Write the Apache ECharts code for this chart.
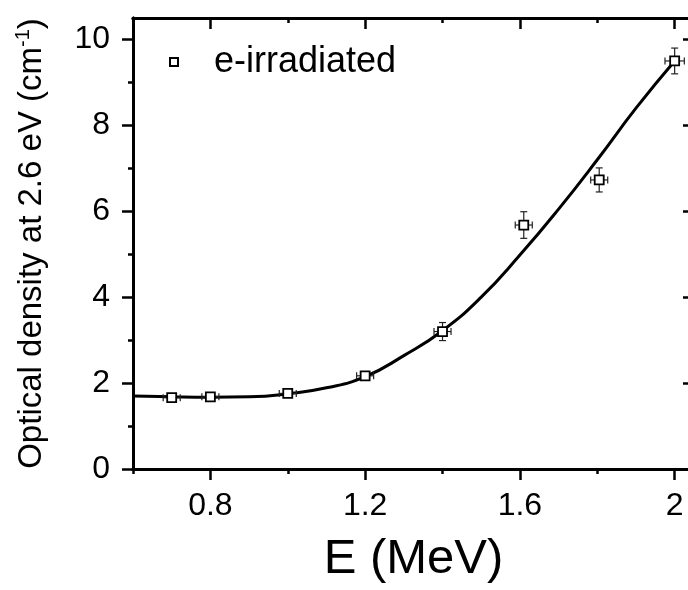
<!DOCTYPE html>
<html>
	<head>
		<meta charset="utf-8">
		<title></title>
		<script src="https://cdn.jsdelivr.net/npm/echarts@6/dist/echarts.min.js"></script>
	</head>
	<body style="margin:0;">
		<div id="my" style="width:688px;height:590px;"></div>

		<script>
			// measured points
			var energy = [0.7, 0.8, 1.0, 1.2, 1.4, 1.61, 1.805, 2.0];
			var density = [1.66, 1.68, 1.76, 2.17, 3.2, 5.68, 6.73, 9.5];
			var energyErr = [0.022, 0.022, 0.022, 0.022, 0.022, 0.022, 0.022, 0.025];
			var densityErr = [0.05, 0.05, 0.05, 0.06, 0.21, 0.31, 0.28, 0.3];

			// fitted curve
			var fitE = [0.6, 0.7, 0.8, 0.9, 1.0, 1.1, 1.2, 1.3, 1.4, 1.5, 1.6, 1.7, 1.8, 1.9, 2.0];
			var fitD = [1.70, 1.68, 1.67, 1.68, 1.75, 1.89, 2.15, 2.64, 3.22, 4.0, 4.98, 6.05, 7.2, 8.4, 9.5];

			// ticks
			var xMajor = [0.8, 1.2, 1.6, 2.0];
			var xMinor = [0.6, 1.0, 1.4, 1.8];
			var yMajor = [0, 2, 4, 6, 8, 10];
			var yMinor = [1, 3, 5, 7, 9];

			var myChart = echarts.init(document.getElementById('my'));
			var font = 'Liberation Sans';

			var pts = energy.map(function (e, i) { return [e, density[i]]; });
			var errData = energy.map(function (e, i) {
				return [e, density[i], energyErr[i], densityErr[i]];
			});
			var fitData = fitE.map(function (e, i) { return [e, fitD[i]]; });

			function xAx(pos, ticks, len, inside, labels) {
				return {
					type: 'value', min: 0.6, max: 2.05, position: pos, gridIndex: 0,
					axisLine: { show: true, onZero: false, lineStyle: { color: '#000', width: 3 } },
					axisTick: { show: true, customValues: ticks, length: len, inside: inside, lineStyle: { color: '#000', width: 2.5 } },
					axisLabel: labels ? {
						show: true, customValues: ticks, margin: 21, color: '#000', fontSize: 32, fontFamily: font,
						formatter: function (v) { return String(+v.toFixed(1)); }
					} : { show: false },
					splitLine: { show: false }
				};
			}
			function yAx(pos, ticks, len, inside, labels) {
				return {
					type: 'value', min: 0, max: 10.5, position: pos, gridIndex: 0,
					axisLine: { show: true, onZero: false, lineStyle: { color: '#000', width: 3 } },
					axisTick: { show: true, customValues: ticks, length: len, inside: inside, lineStyle: { color: '#000', width: 2.5 } },
					axisLabel: labels ? {
						show: true, customValues: ticks, margin: 23, color: '#000', fontSize: 32, fontFamily: font
					} : { show: false },
					splitLine: { show: false }
				};
			}

			var xMain = xAx('bottom', xMajor, 11, false, true);
			xMain.name = 'E (MeV)';
			xMain.nameLocation = 'middle';
			xMain.nameGap = 66;
			xMain.nameTextStyle = { color: '#000', fontSize: 49, fontFamily: font };

			var yMain = yAx('left', yMajor, 11, false, true);
			yMain.name = 'Optical density at 2.6 eV (cm{sup|-1})';
			yMain.nameLocation = 'middle';
			yMain.nameGap = 82;
			yMain.nameTextStyle = {
				color: '#000', fontSize: 33, fontFamily: font,
				rich: { sup: { fontSize: 20, fontFamily: font, color: '#000', verticalAlign: 'top', lineHeight: 38 } }
			};

			var option = {
				animation: false,
				grid: { left: 133, width: 561, top: 18, bottom: 121, outerBoundsMode: 'none', containLabel: false },
				legend: {
					left: 164, top: 39,
					itemWidth: 8, itemHeight: 8,
					data: ['e-irradiated'],
					textStyle: { color: '#000', fontSize: 36, fontFamily: font, padding: [0, 0, 0, 31] }
				},
				xAxis: [
					xMain,
					xAx('bottom', xMinor, 5, false, false),
					xAx('top', xMajor, 11, true, false),
					xAx('top', xMinor, 5, true, false)
				],
				yAxis: [
					yMain,
					yAx('left', yMinor, 5, false, false),
					yAx('right', yMajor, 11, true, false),
					yAx('right', yMinor, 5, true, false)
				],
				series: [
					{
						name: 'fit',
						type: 'line',
						data: fitData,
						smooth: 0.5,
						showSymbol: false,
						lineStyle: { color: '#000', width: 3 },
						z: 2
					},
					{
						name: 'errors',
						type: 'custom',
						data: errData,
						z: 3,
						renderItem: function (params, api) {
							var x = api.value(0), y = api.value(1), dx = api.value(2), dy = api.value(3);
							var l = api.coord([x - dx, y]), r = api.coord([x + dx, y]);
							var t = api.coord([x, y + dy]), b = api.coord([x, y - dy]);
							var c = 3.5;
							var st = { stroke: '#222', lineWidth: 1.2 };
							return {
								type: 'group',
								children: [
									{ type: 'line', shape: { x1: l[0], y1: l[1], x2: r[0], y2: r[1] }, style: st },
									{ type: 'line', shape: { x1: l[0], y1: l[1] - c, x2: l[0], y2: l[1] + c }, style: st },
									{ type: 'line', shape: { x1: r[0], y1: r[1] - c, x2: r[0], y2: r[1] + c }, style: st },
									{ type: 'line', shape: { x1: t[0], y1: t[1], x2: b[0], y2: b[1] }, style: st },
									{ type: 'line', shape: { x1: t[0] - c, y1: t[1], x2: t[0] + c, y2: t[1] }, style: st },
									{ type: 'line', shape: { x1: b[0] - c, y1: b[1], x2: b[0] + c, y2: b[1] }, style: st }
								]
							};
						}
					},
					{
						name: 'e-irradiated',
						type: 'scatter',
						data: pts,
						symbol: 'rect',
						symbolSize: 9,
						itemStyle: { color: '#fff', borderColor: '#000', borderWidth: 1.8, opacity: 1 },
						z: 4
					}
				]
			};

			myChart.setOption(option);
		</script>
	</body>
</html>
